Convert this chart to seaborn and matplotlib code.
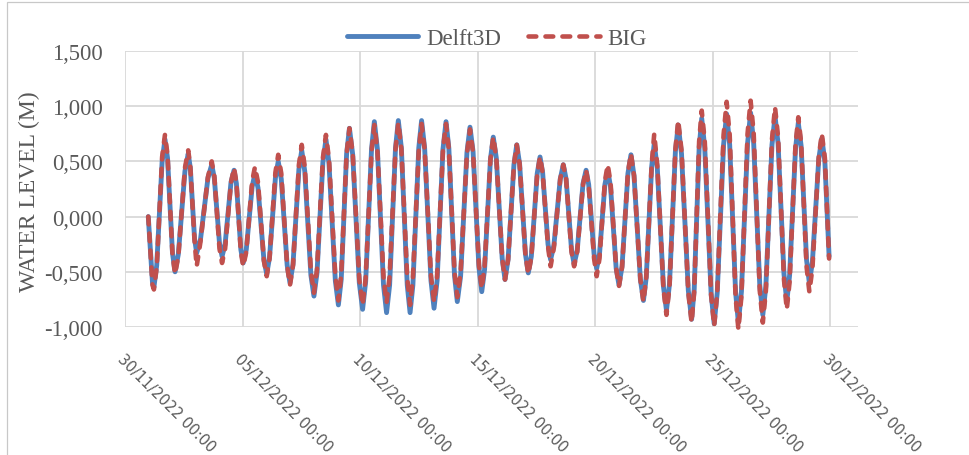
import pandas as pd
import matplotlib
matplotlib.use("Agg")
import matplotlib.pyplot as plt
from matplotlib.patches import Rectangle
from matplotlib.transforms import ScaledTranslation
import seaborn as sns

# Water level readings, time in days after 30/11/2022 00:00
day_offsets = [
    0.99, 1.17, 1.23, 1.35, 1.58, 1.70, 1.81, 2.02, 2.13, 2.27,
    2.55, 2.69, 2.78, 2.96, 3.05, 3.21, 3.53, 3.69, 3.80, 4.02,
    4.13, 4.26, 4.51, 4.64, 4.74, 4.93, 5.03, 5.16, 5.41, 5.53,
    5.66, 5.91, 6.03, 6.15, 6.40, 6.52, 6.65, 6.90, 7.02, 7.15,
    7.40, 7.52, 7.65, 7.91, 8.04, 8.17, 8.42, 8.55, 8.68, 8.95,
    9.08, 9.20, 9.43, 9.55, 9.69, 9.97, 10.11, 10.24, 10.49, 10.61,
    10.74, 11.00, 11.13, 11.26, 11.51, 11.63, 11.76, 12.01, 12.13, 12.25,
    12.50, 12.62, 12.75, 13.02, 13.15, 13.28, 13.53, 13.66, 13.78, 14.02,
    14.14, 14.28, 14.55, 14.68, 14.81, 15.06, 15.18, 15.30, 15.55, 15.67,
    15.80, 16.05, 16.17, 16.30, 16.55, 16.67, 16.79, 17.04, 17.16, 17.29,
    17.54, 17.66, 17.77, 18.00, 18.11, 18.25, 18.52, 18.65, 18.77, 19.00,
    19.11, 19.24, 19.49, 19.62, 19.73, 19.96, 20.07, 20.19, 20.42, 20.54,
    20.66, 20.90, 21.02, 21.15, 21.40, 21.53, 21.66, 21.93, 22.06, 22.18,
    22.41, 22.52, 22.65, 22.91, 23.04, 23.17, 23.42, 23.54, 23.68, 23.97,
    24.11, 24.22, 24.43, 24.54, 24.67, 24.94, 25.07, 25.20, 25.47, 25.60,
    25.73, 25.98, 26.10, 26.23, 26.49, 26.62, 26.75, 27.01, 27.14, 27.27,
    27.53, 27.66, 27.79, 28.04, 28.16, 28.28, 28.53, 28.65, 28.77, 29.00,
    29.12, 29.25, 29.52, 29.65, 29.78, 29.96,
]
delft3d_level = [
    0.00, -0.60, -0.64, -0.44, 0.50, 0.70, 0.53, -0.33, -0.50, -0.34,
    0.41, 0.57, 0.44, -0.20, -0.33, -0.21, 0.35, 0.47, 0.35, -0.24,
    -0.36, -0.25, 0.31, 0.42, 0.30, -0.30, -0.42, -0.30, 0.27, 0.39,
    0.26, -0.39, -0.52, -0.37, 0.35, 0.50, 0.34, -0.44, -0.60, -0.43,
    0.43, 0.60, 0.41, -0.53, -0.72, -0.51, 0.49, 0.70, 0.48, -0.58,
    -0.80, -0.57, 0.57, 0.80, 0.56, -0.60, -0.84, -0.59, 0.61, 0.86,
    0.61, -0.62, -0.87, -0.62, 0.62, 0.87, 0.62, -0.62, -0.87, -0.62,
    0.62, 0.87, 0.62, -0.58, -0.83, -0.58, 0.61, 0.86, 0.62, -0.53,
    -0.77, -0.54, 0.58, 0.81, 0.59, -0.46, -0.68, -0.48, 0.52, 0.72,
    0.53, -0.38, -0.57, -0.39, 0.47, 0.65, 0.48, -0.34, -0.51, -0.36,
    0.39, 0.54, 0.40, -0.25, -0.39, -0.26, 0.34, 0.47, 0.34, -0.30,
    -0.43, -0.31, 0.30, 0.42, 0.29, -0.34, -0.47, -0.34, 0.29, 0.42,
    0.27, -0.47, -0.62, -0.45, 0.39, 0.56, 0.37, -0.57, -0.76, -0.55,
    0.45, 0.66, 0.44, -0.63, -0.85, -0.61, 0.59, 0.83, 0.57, -0.67,
    -0.93, -0.66, 0.62, 0.89, 0.62, -0.70, -0.97, -0.69, 0.65, 0.93,
    0.65, -0.68, -0.96, -0.68, 0.66, 0.94, 0.67, -0.62, -0.89, -0.63,
    0.65, 0.91, 0.66, -0.52, -0.77, -0.53, 0.61, 0.85, 0.64, -0.39,
    -0.60, -0.41, 0.52, 0.71, 0.50, -0.36,
]
big_level = [
    0.00, -0.62, -0.66, -0.46, 0.54, 0.74, 0.56, -0.34, -0.52, -0.36,
    0.44, 0.60, 0.45, -0.22, -0.45, -0.23, 0.36, 0.50, 0.37, -0.29,
    -0.42, -0.29, 0.31, 0.44, 0.31, -0.32, -0.45, -0.32, 0.32, 0.45,
    0.31, -0.40, -0.54, -0.38, 0.40, 0.56, 0.39, -0.45, -0.62, -0.44,
    0.47, 0.65, 0.45, -0.49, -0.69, -0.48, 0.53, 0.74, 0.52, -0.54,
    -0.76, -0.53, 0.57, 0.80, 0.57, -0.57, -0.80, -0.56, 0.59, 0.83,
    0.60, -0.55, -0.78, -0.54, 0.61, 0.85, 0.61, -0.56, -0.80, -0.56,
    0.60, 0.84, 0.61, -0.54, -0.77, -0.54, 0.61, 0.84, 0.61, -0.50,
    -0.73, -0.51, 0.57, 0.79, 0.58, -0.44, -0.65, -0.45, 0.52, 0.72,
    0.53, -0.38, -0.57, -0.39, 0.47, 0.65, 0.48, -0.35, -0.52, -0.37,
    0.39, 0.54, 0.40, -0.27, -0.45, -0.28, 0.34, 0.47, 0.34, -0.32,
    -0.45, -0.32, 0.29, 0.42, 0.28, -0.38, -0.54, -0.38, 0.32, 0.47,
    0.31, -0.47, -0.63, -0.46, 0.40, 0.57, 0.37, -0.57, -0.77, -0.55,
    0.47, 0.75, 0.46, -0.65, -0.89, -0.63, 0.61, 0.87, 0.60, -0.69,
    -0.96, -0.68, 0.68, 0.96, 0.68, -0.71, -0.99, -0.69, 0.74, 1.04,
    0.74, -0.72, -1.02, -0.72, 0.75, 1.05, 0.76, -0.67, -0.96, -0.67,
    0.70, 0.99, 0.72, -0.57, -0.84, -0.59, 0.65, 0.90, 0.67, -0.45,
    -0.68, -0.47, 0.54, 0.75, 0.53, -0.38,
]

y_ticks = [-1.0, -0.5, 0.0, 0.5, 1.0, 1.5]
y_tick_labels = ["-1,000", "-0,500", "0,000", "0,500", "1,000", "1,500"]
x_tick_dates = ["2022-11-30", "2022-12-05", "2022-12-10", "2022-12-15",
                "2022-12-20", "2022-12-25", "2022-12-30"]
x_tick_labels = ["30/11/2022 00:00", "05/12/2022 00:00", "10/12/2022 00:00",
                 "15/12/2022 00:00", "20/12/2022 00:00", "25/12/2022 00:00",
                 "30/12/2022 00:00"]

BLUE = "#4F81BD"
RED = "#C0504D"
TEXT = "#595959"
GRID = "#D9D9D9"

sns.set_style("white")
plt.rcParams["font.family"] = ["Liberation Serif", "DejaVu Serif"]

W, H = 970, 456
fig = plt.figure(figsize=(W / 100, H / 100), dpi=100)
ax = fig.add_axes([125 / W, 1 - 328 / H, (858 - 125) / W, (328 - 52) / H])

start = pd.Timestamp("2022-11-30")
df = pd.DataFrame({
    "time": start + pd.to_timedelta(day_offsets, unit="D"),
    "Delft3D": delft3d_level,
    "BIG": big_level,
})

sns.lineplot(data=df, x="time", y="Delft3D", ax=ax, color=BLUE,
             linewidth=3.5, label="Delft3D", zorder=3)
sns.lineplot(data=df, x="time", y="BIG", ax=ax, color=RED,
             linewidth=3.3, label="BIG", zorder=4)

solid, dashed = ax.lines[0], ax.lines[1]
solid.set_solid_joinstyle("round")
solid.set_solid_capstyle("round")
dashed.set_dashes([1.7, 2.0])
dashed.set_dash_capstyle("round")
dashed.set_dash_joinstyle("round")
for ln in (solid, dashed):
    ln.set_clip_on(False)

ax.set_ylim(-1.0, 1.5)
ax.set_xlim(start, start + pd.Timedelta(days=31.19))
ax.set_yticks(y_ticks, y_tick_labels)
ax.set_xticks(pd.to_datetime(x_tick_dates))
ax.set_xticklabels(x_tick_labels, rotation=-45, ha="left", va="top",
                   rotation_mode="anchor", fontfamily="DejaVu Sans",
                   fontsize=10.5, color=TEXT)
shift = ScaledTranslation(-6 / 100, 0, fig.dpi_scale_trans)
for lab in ax.get_xticklabels():
    lab.set_transform(lab.get_transform() + shift)

ax.tick_params(axis="y", length=0, pad=16, labelsize=16.3, labelcolor=TEXT)
ax.tick_params(axis="x", length=0, pad=17)

ax.grid(True, color=GRID, linewidth=1.3)
ax.set_axisbelow(True)
for sp in ax.spines.values():
    sp.set_visible(False)

ax.set_xlabel("")
ax.set_ylabel("WATER LEVEL (M)", fontsize=17, color=TEXT)
ax.yaxis.set_label_coords(-0.116, 0.493)

ax.legend(loc="center", bbox_to_anchor=(497 / W, 1 - 39 / H),
          bbox_transform=fig.transFigure, ncol=2, frameon=False,
          fontsize=16.5, handlelength=3.1, handletextpad=0.35,
          columnspacing=1.2, labelcolor=TEXT)

# chart frame
fig.add_artist(Rectangle((7.5 / W, -0.05), 1.0, 1.05 - 3.3 / H,
                         transform=fig.transFigure, fill=False,
                         edgecolor="#C8C8C8", linewidth=0.9))

fig.savefig("out.png", dpi=100)
